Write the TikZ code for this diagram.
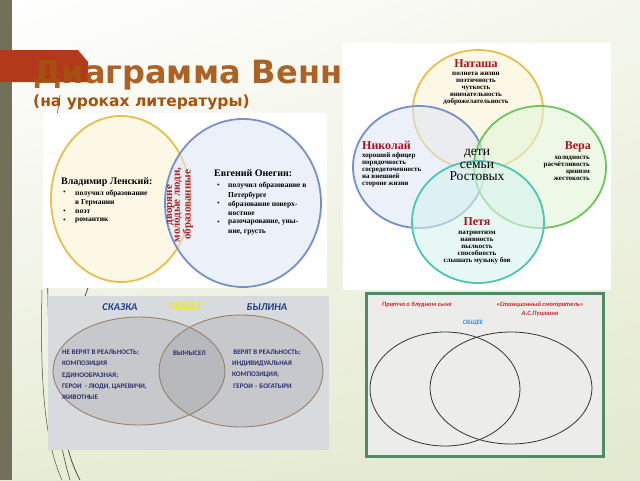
\documentclass[tikz,border=0pt]{standalone}
\usepackage{fontspec}
\setmainfont{Liberation Serif}
\newfontfamily\headfont{DejaVu Sans}
\newfontfamily\calfont{Carlito}
\usepackage{tikz}
\usetikzlibrary{shadings}
\definecolor{bgg}{HTML}{E3E9CF}
\definecolor{barolive}{HTML}{736F58}
\definecolor{wisp}{HTML}{4F4C3C}
\definecolor{bannerred}{HTML}{B23A1A}
\definecolor{titlebrown}{HTML}{A4520F}
\definecolor{namered}{HTML}{A3161E}
\definecolor{lensred}{HTML}{A8232A}
\definecolor{goldring}{HTML}{E6C04C}
\definecolor{goldfill}{HTML}{FCF3D4}
\definecolor{bluering}{HTML}{7690C9}
\definecolor{bluefill}{HTML}{DFE6F5}
\definecolor{greenring}{HTML}{6CC65A}
\definecolor{greenfill}{HTML}{E2F4D8}
\definecolor{tealring}{HTML}{4FC4B4}
\definecolor{tealfill}{HTML}{D6F3EE}
\definecolor{marble}{HTML}{D8DBDE}
\definecolor{capsblue}{HTML}{2B2F70}
\definecolor{headblue}{HTML}{1F3C88}
\definecolor{yellowish}{HTML}{EFE52A}
\definecolor{frame}{HTML}{4E8A68}
\definecolor{paper}{HTML}{ECECEA}
\definecolor{notered}{HTML}{D2262E}
\definecolor{noteblue}{HTML}{3A8AD0}

\begin{document}
\begin{tikzpicture}[x=1pt, y=-1pt,
  every node/.style={inner sep=0pt},
  ring/.style={line width=1.8pt, fill opacity=0.6},
  hero/.style={text=namered, font=\bfseries\fontsize{12}{12}\selectfont},
  trait/.style={font=\bfseries\fontsize{7}{7.1}\selectfont, align=center},
  pointtext/.style={anchor=west, align=left, font=\bfseries\fontsize{7.5}{9.5}\selectfont},
  bulletmark/.style={anchor=west, font=\fontsize{7.5}{9.5}\selectfont},
  caps/.style={text=capsblue, anchor=west, align=left, font=\calfont\bfseries\fontsize{7}{11.3}\selectfont},
  genre/.style={font=\calfont\bfseries\itshape\fontsize{10.5}{11}\selectfont},
  notetext/.style={text=notered, font=\calfont\bfseries\itshape\fontsize{6.5}{9}\selectfont}]
  \useasboundingbox (0,0) rectangle (640,480);
  \shade[upper left=white, upper right=white!60!bgg, lower left=bgg!85, lower right=bgg] (0,0) rectangle (640,480);
  \fill[barolive] (0,0) rectangle (12,480);
  \path[draw=wisp, line width=0.6pt] (60,95) .. controls (44,200) and (40,380) .. (70,480);
  \path[draw=wisp, line width=0.8pt] (98,262) .. controls (66,340) and (48,420) .. (80,480);
  \path[draw=wisp, line width=0.5pt] (42,290) .. controls (40,380) and (44,440) .. (62,480);

  \fill[bannerred] (0,50) -- (78,50) -- (88,62) -- (88,82) -- (0,82) -- cycle;
  \node[anchor=base west, text=titlebrown, fill opacity=0.9, font=\headfont\bfseries\fontsize{32}{32}\selectfont] (title) at (33,83) {Диаграмма Венна};
  \node[anchor=west, text=titlebrown, font=\headfont\bfseries\fontsize{15.5}{16}\selectfont] (subtitle) at (33,102) {(на уроках литературы)};

  \fill[white] (43,113) rectangle (327,288);
  \path[draw=goldring, fill=goldfill, ring] (121,199) ellipse [x radius=70, y radius=83];
  \path[draw=bluering, fill=bluefill, ring] (243,203) ellipse [x radius=78, y radius=84];
  \node[anchor=west, font=\bfseries\fontsize{10}{10}\selectfont] (lensky) at (61,182) {Владимир Ленский:};
  \node[bulletmark] at (63,193) {\textbullet};
  \node[bulletmark] at (63,212) {\textbullet};
  \node[bulletmark] at (63,221) {\textbullet};
  \node[pointtext] (lensky1) at (75,198) {получил образование\\в Германии};
  \node[pointtext] (lensky2) at (75,212) {поэт};
  \node[pointtext] (lensky3) at (75,221) {романтик};
  \node[anchor=west, font=\bfseries\fontsize{10}{10}\selectfont] (onegin) at (214,173) {Евгений Онегин:};
  \node[bulletmark] at (217,186) {\textbullet};
  \node[bulletmark] at (217,204) {\textbullet};
  \node[bulletmark] at (217,223) {\textbullet};
  \node[pointtext] (onegin1) at (228,190.5) {получил образование в\\Петербурге};
  \node[pointtext] (onegin2) at (228,208.5) {образование поверх-\\ностное};
  \node[pointtext] (onegin3) at (228,227.5) {разочарование, уны-\\ние, грусть};
  \node[rotate=90, text=lensred, align=center, font=\bfseries\fontsize{11}{7.6}\selectfont] (nobles) at (180,205) {дворяне\\молодые люди,\\образованные};

  \fill[white] (343,43) rectangle (611,290);
  \path[draw=goldring, fill=goldfill, ring] (478,110) ellipse [x radius=65, y radius=60];
  \path[draw=bluering, fill=bluefill, ring] (419,167) ellipse [x radius=66, y radius=61];
  \path[draw=greenring, fill=greenfill, ring] (540,167) ellipse [x radius=66, y radius=61];
  \path[draw=tealring, fill=tealfill, ring] (478,222) ellipse [x radius=66, y radius=61];
  \node[hero] (natasha) at (476,63.5) {Наташа};
  \node[trait] (natashatraits) at (476,88.5) {полнота жизни\\поэтичность\\чуткость\\внимательность\\доброжелательность};
  \node[hero, anchor=west] (nikolai) at (362,145.5) {Николай};
  \node[trait, align=left, anchor=west] (nikolaitraits) at (362,170) {хороший офицер\\порядочность\\сосредоточенность\\на внешней\\стороне жизни};
  \node[hero, anchor=east] (vera) at (591,147) {Вера};
  \node[trait, align=right, anchor=east] (veratraits) at (590,168.5) {холодность\\расчётливость\\цинизм\\жестокость};
  \node[hero] (petya) at (477,221.5) {Петя};
  \node[trait] (petyatraits) at (477,247.5) {патриотизм\\наивность\\пылкость\\способность\\слышать музыку боя};
  \node[align=center, font=\fontsize{13.5}{12.6}\selectfont] (family) at (477,165) {дети\\семьи\\Ростовых};

  \fill[marble] (48,296) rectangle (329,450);
  \path[draw=gray!60!brown, fill=gray, fill opacity=0.2, line width=0.9pt] (139,371) ellipse [x radius=86, y radius=54];
  \path[draw=gray!60!brown, fill=gray, fill opacity=0.2, line width=0.9pt] (241,371) ellipse [x radius=82, y radius=56];
  \node[genre, text=headblue] (skazka) at (120,307) {СКАЗКА};
  \node[genre, text=yellowish] (common3) at (185,307) {ОБЩЕЕ};
  \node[genre, text=headblue] (bylina) at (267,307) {БЫЛИНА};
  \node[caps] (skazkatext) at (62,375) {НЕ ВЕРЯТ В РЕАЛЬНОСТЬ;\\КОМПОЗИЦИЯ\\ЕДИНООБРАЗНАЯ;\\ГЕРОИ~~- ЛЮДИ, ЦАРЕВИЧИ,\\ЖИВОТНЫЕ};
  \node[caps] (fiction) at (173,353) {ВЫМЫСЕЛ};
  \node[caps] (bylinatext) at (232,369) {\,ВЕРЯТ В РЕАЛЬНОСТЬ;\\ИНДИВИДУАЛЬНАЯ\\КОМПОЗИЦИЯ;\\\,ГЕРОИ – БОГАТЫРИ};

  \path[draw=frame, fill=paper, line width=3pt] (366,293) rectangle (603,456);
  \path[draw=black!80, line width=0.8pt] (445,389) ellipse [x radius=75, y radius=57];
  \path[draw=black!80, line width=0.8pt] (511,388) ellipse [x radius=81, y radius=56];
  \node[notetext] (parable) at (417,305) {Притча о блудном сыне};
  \node[notetext, align=center] (pushkin) at (540,309.5) {«Станционный смотритель»\\А.С.Пушкина};
  \node[notetext, text=noteblue] (common4) at (473,323) {ОБЩЕЕ};
\end{tikzpicture}
\end{document}
